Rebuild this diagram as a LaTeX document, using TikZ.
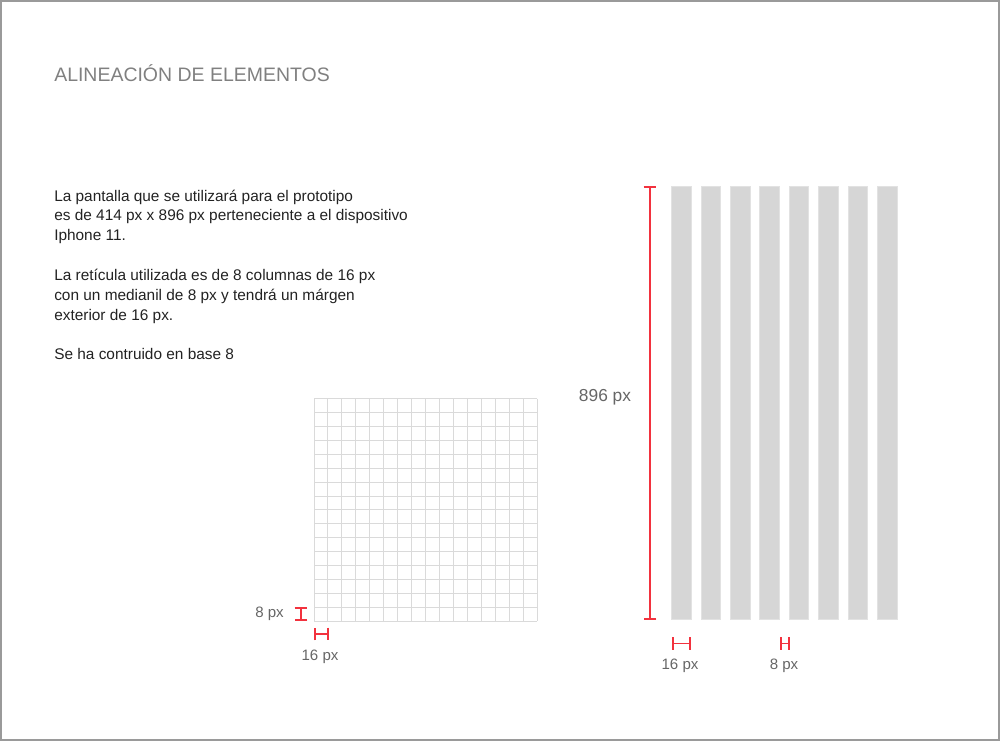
\documentclass[tikz,border=0pt]{standalone}
\usepackage{fontspec}
\setmainfont{Liberation Sans}
\usetikzlibrary{arrows.meta}
\definecolor{gridgray}{HTML}{DADADA}
\definecolor{colgray}{HTML}{D6D6D6}
\definecolor{coledge}{HTML}{E2E2E2}
\definecolor{markred}{HTML}{F2323E}
\definecolor{labelgray}{HTML}{666666}
\definecolor{titlegray}{HTML}{808080}
\definecolor{bodyblack}{HTML}{222222}
\definecolor{framegray}{HTML}{9A9A9A}
\tikzset{
  gridline/.style={gridgray, line width=0.75pt},
  column/.style={fill=colgray, draw=coledge, line width=0.6pt},
  measure/.style={markred, line width=1.3pt, {Bar[width=9.5pt]}-{Bar[width=9.5pt]}},
  dimtext/.style={labelgray, font=\fontsize{11.3}{13}\selectfont, inner sep=0pt},
  bigdim/.style={labelgray, font=\fontsize{13}{15}\selectfont, inner sep=0pt},
}
\begin{document}
\begin{tikzpicture}[x=0.75pt, y=-0.75pt]
  \useasboundingbox (0,0) rectangle (1000,741);
  \draw[framegray, line width=1.1pt] (0.8,0.8) rectangle (999.2,740.2);

  % title and description
  \node[titlegray, font=\fontsize{14.6}{17}\selectfont, anchor=base west, inner sep=0pt] (title) at (54,82) {ALINEACIÓN DE ELEMENTOS};
  \node[bodyblack, font=\fontsize{11.55}{14.9}\selectfont, align=left, anchor=base west, inner sep=0pt] (info) at (54,360)
    {La pantalla que se utilizará para el prototipo\\
     es de 414 px x 896 px perteneciente a el dispositivo\\
     Iphone 11.\\[14.9pt]
     La retícula utilizada es de 8 columnas de 16 px\\
     con un medianil de 8 px y tendrá un márgen\\
     exterior de 16 px.\\[14.9pt]
     Se ha contruido en base 8};

  % base 8 grid
  \foreach \i in {0,...,16} {
    \draw[gridline] (314+\i*13.94,399) -- (314+\i*13.94,621);
    \draw[gridline] (314,399+\i*13.875) -- (537,399+\i*13.875);
  }
  \coordinate (rowtop) at (301,607);
  \coordinate (rowbot) at (301,621);
  \draw[measure] (rowtop) -- (rowbot);
  \node[dimtext, anchor=east] (rowlabel) at (284,614) {8 px};
  \coordinate (cellleft) at (314,634);
  \coordinate (cellright) at (328.5,634);
  \draw[measure] (cellleft) -- (cellright);
  \node[dimtext] (celllabel) at (320,657) {16 px};

  % 8 columns
  \foreach \i in {0,...,7}
    \filldraw[column] (671.5+\i*29.4,186) rectangle ++(19.6,433);
  \coordinate (screentop) at (650,186);
  \coordinate (screenbot) at (650,620);
  \draw[measure] (screentop) -- (screenbot);
  \node[bigdim] (screenlabel) at (605,397) {896 px};
  \coordinate (colleft) at (672,643.5);
  \coordinate (colright) at (691,643.5);
  \draw[measure] (colleft) -- (colright);
  \node[dimtext] (collabel) at (680,666) {16 px};
  \coordinate (gutleft) at (780,643.5);
  \coordinate (gutright) at (789.5,643.5);
  \draw[measure] (gutleft) -- (gutright);
  \node[dimtext] (gutlabel) at (784,666) {8 px};
\end{tikzpicture}
\end{document}
